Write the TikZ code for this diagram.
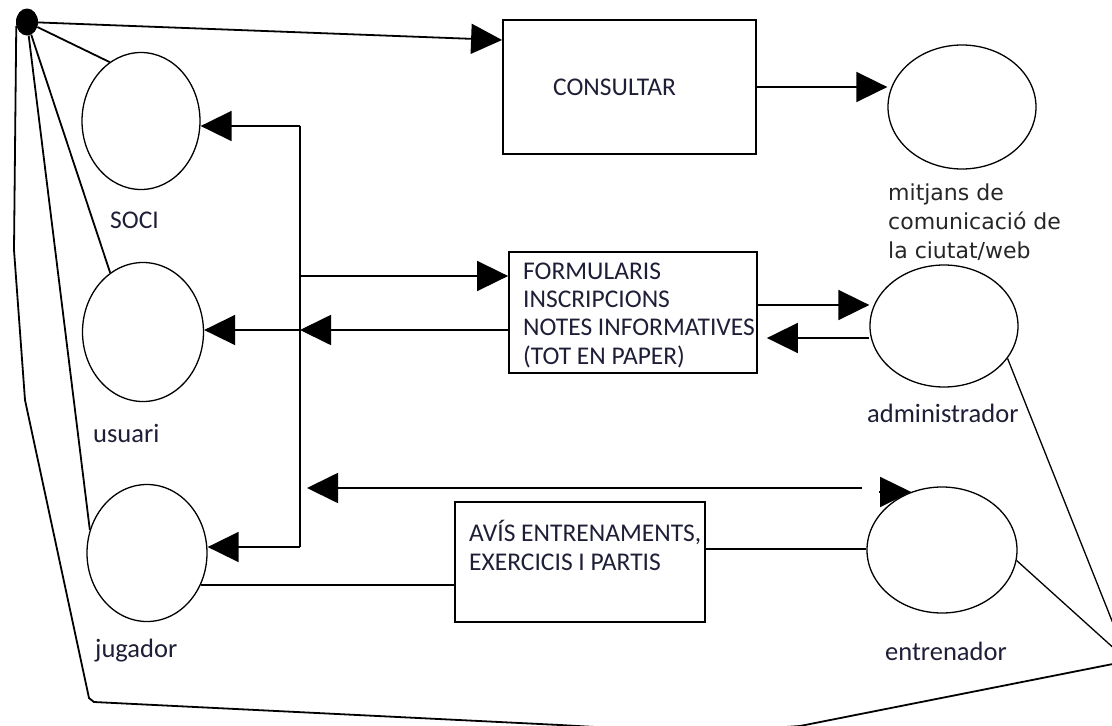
\documentclass[tikz,border=0pt]{standalone}
\usepackage{fontspec}
\setmainfont{Carlito}
\newfontfamily\mitfont{DejaVu Sans}
\usetikzlibrary{arrows.meta,shapes.geometric}
\definecolor{txt}{RGB}{30,30,55}
\begin{document}
\begin{tikzpicture}[x=1pt,y=-1pt,
  circ/.style={draw, ellipse, line width=1.3pt, inner sep=0pt},
  box/.style={draw, rectangle, line width=1.8pt, inner sep=0pt},
  ln/.style={line width=1.8pt},
  arr/.style={-{Triangle[length=31pt,width=30pt]}},
  lbl/.style={font=\fontsize{25.5}{28.3}\selectfont, text=txt, inner sep=0pt, anchor=base west, align=left},
  low/.style={lbl, font=\fontsize{26.5}{30}\selectfont}]
\fill[white] (0,0) rectangle (1112,726);
\useasboundingbox (0,0) rectangle (1112,726);

% nodes
\node[fill=black, ellipse, inner sep=0pt, minimum width=22pt, minimum height=27pt] (dot) at (27,22) {};
\node[circ, minimum width=118pt, minimum height=137pt] (soci) at (141,121) {};
\node[circ, minimum width=121pt, minimum height=139pt] (usu) at (143,332) {};
\node[circ, minimum width=120pt, minimum height=137pt] (jug) at (147,553) {};
\node[circ, minimum width=148pt, minimum height=124pt] (mit) at (962,107) {};
\node[circ, minimum width=148pt, minimum height=122pt] (adm) at (944,326) {};
\node[circ, minimum width=150pt, minimum height=126pt] (entr) at (942,550) {};
\node[box, minimum width=253pt, minimum height=134pt] (cons) at (629.5,87) {};
\node[box, minimum width=248pt, minimum height=121pt] (form) at (633,312.5) {};
\node[box, minimum width=250pt, minimum height=120pt] (avis) at (580,562) {};

% texts (base anchor = baseline of the last line)
\node[lbl] (tcons) at (553,95) {CONSULTAR};
\node[lbl] (tform) at (523,364) {FORMULARIS\\INSCRIPCIONS\\NOTES INFORMATIVES\\(TOT EN PAPER)};
\node[lbl] (tavis) at (469,570) {AVÍS ENTRENAMENTS,\\EXERCICIS I PARTIS};
\node[lbl] (tsoci) at (110,228) {SOCI};
\node[low] (tusu) at (93,442) {usuari};
\node[low] (tjug) at (95,657) {jugador};
\node[low] (tadm) at (867,422) {administrador};
\node[low] (tent) at (885,660) {entrenador};
\node[lbl, text=black!85, font=\mitfont\fontsize{22}{29}\selectfont] (tmit) at (888,258) {mitjans de\\comunicació de\\la ciutat/web};

% coordinates
\coordinate (b1) at (300,126);
\coordinate (b2) at (300,276);
\coordinate (b3) at (300,330);
\coordinate (b4) at (300,547);
\coordinate (tr1) at (862,488);
\coordinate (tr2) at (307,488);
\coordinate (ta) at (879,492);
\coordinate (meet) at (1128,661);
\coordinate (o1) at (14,250);
\coordinate (o2) at (25,400);
\coordinate (o3) at (89,698);
\coordinate (o4) at (94,702);
\coordinate (o5) at (560,725);
\coordinate (o6) at (700,733);
\coordinate (o7) at (800,726);

% connectors from the dot
\draw[ln,arr] (dot) -- ([yshift=47pt]cons.west);
\draw[ln] (dot) -- (soci.118);
\draw[ln] (dot) -- (usu.119);
\draw[ln] (dot) -- (jug.158);
\draw[ln] (dot.200) -- (o1) -- (o2) -- (o3) -- (o4) -- (o5) -- (o6) -- (o7) -- (meet);

% bus
\draw[ln] (b1) -- (b4);
\draw[ln,arr] (b1) -- (b1 -| soci.east);
\draw[ln,arr] (b2) -- (b2 -| form.west);
\draw[ln,arr] ([yshift=-17.5pt]form.west) -- (b3);
\draw[ln,arr] (b3) -- (b3 -| usu.east);
\draw[ln,arr] (b4) -- (b4 -| jug.east);

% consultar -> mitjans
\draw[ln,arr] (cons.east) -- (cons.east -| mit.west);

% form <-> admin
\draw[ln,arr] ([yshift=7.5pt]form.east) -- ([yshift=7.5pt]form.east -| adm.west);
\draw[ln,arr,shorten >=9pt] ([yshift=-12pt]adm.west) -- ([yshift=-12pt]adm.west -| form.east);

% avis links
\draw[ln] (jug.-31) -- (jug.-31 -| avis.west);
\draw[ln] ([yshift=13pt]avis.east) -- ([yshift=13pt]avis.east -| entr.west);

% entrenador arrows
\draw[ln,arr] (tr1) -- (tr2);
\draw[ln,arr] (ta) -- (entr.118);

% lines to meeting point
\draw[line width=1.3pt] (adm.-27) -- (meet);
\draw[line width=1.3pt] (entr.-8) -- (meet);
\end{tikzpicture}
\end{document}
